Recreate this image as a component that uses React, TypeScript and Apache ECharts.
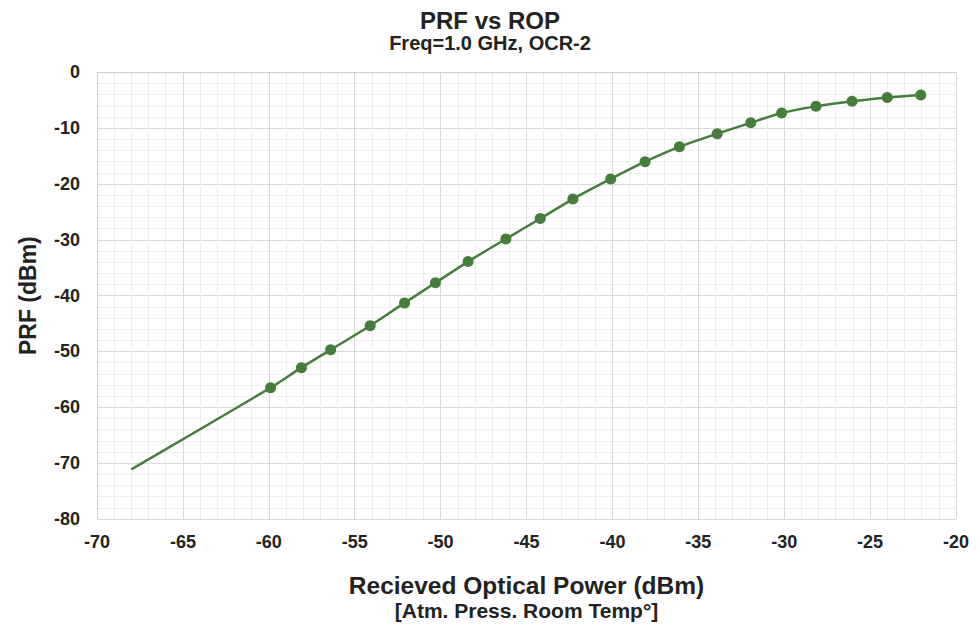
import React, { useEffect, useRef } from "react";
import * as echarts from "echarts";

const ropValues: number[] = [-68, -59.9, -58.1, -56.4, -54.1, -52.1, -50.3, -48.4, -46.2, -44.2, -42.3, -40.1, -38.1, -36.1, -33.9, -31.95, -30.15, -28.15, -26.05, -24.0, -22.05];
const prfValues: number[] = [-71.1, -56.5, -52.9, -49.7, -45.4, -41.3, -37.7, -33.9, -29.85, -26.2, -22.7, -19.1, -16.0, -13.35, -11.0, -9.05, -7.3, -6.1, -5.2, -4.5, -4.05];
const showMarker: boolean[] = [false, true, true, true, true, true, true, true, true, true, true, true, true, true, true, true, true, true, true, true, true];

const titleText = "PRF vs ROP";
const subtitleText = "Freq=1.0 GHz, OCR-2";
const xName = "Recieved Optical Power (dBm)";
const xName2 = "[Atm. Press. Room Temp°]";
const yName = "PRF (dBm)";

export default function App() {
  const ref = useRef<HTMLDivElement>(null);
  useEffect(() => {
    if (!ref.current) return;
    const chart = echarts.init(ref.current, undefined, { renderer: "svg" });
    const font = "'Liberation Sans', Arial, sans-serif";
    const data = ropValues.map((x, i) =>
      showMarker[i] ? [x, prfValues[i]] : { value: [x, prfValues[i]], symbol: "none" }
    );
    chart.setOption({
      animation: false,
      backgroundColor: "#ffffff",
      title: [
        {
          text: titleText,
          left: "center",
          top: 0,
          padding: 0,
          textStyle: { fontFamily: font, fontWeight: "bold", fontSize: 24, lineHeight: 24, color: "#222" },
        },
        {
          text: subtitleText,
          left: "center",
          top: 25,
          padding: 0,
          textStyle: { fontFamily: font, fontWeight: "bold", fontSize: 20, lineHeight: 20, color: "#222" },
        },
      ],
      grid: { left: 85.3, right: 8.7, top: 64.3, bottom: 100, containLabel: false },
      xAxis: {
        type: "value",
        min: -70,
        max: -20,
        interval: 5,
        name: `{a|${xName}}\n{b|${xName2}}`,
        nameLocation: "middle",
        nameGap: 52.5,
        nameTextStyle: {
          rich: {
            a: { fontFamily: font, fontWeight: "bold", fontSize: 24.5, color: "#222", lineHeight: 28 },
            b: { fontFamily: font, fontWeight: "bold", fontSize: 21, color: "#222", lineHeight: 22 },
          },
        },
        axisLine: { show: true, lineStyle: { color: "#cfcfcf", width: 1 } },
        axisTick: { show: false },
        axisLabel: { fontFamily: font, fontWeight: "bold", fontSize: 18, color: "#222", margin: 13.5 },
        splitLine: { show: true, lineStyle: { color: "#d9d9d9", width: 1 } },
        minorTick: { show: false, splitNumber: 5 },
        minorSplitLine: { show: true, lineStyle: { color: "#efefef", width: 1 } },
      },
      yAxis: {
        type: "value",
        min: -80,
        max: 0,
        interval: 10,
        name: yName,
        nameLocation: "middle",
        nameGap: 58,
        nameTextStyle: { fontFamily: font, fontWeight: "bold", fontSize: 23, color: "#222" },
        axisLine: { show: true, lineStyle: { color: "#cfcfcf", width: 1 } },
        axisTick: { show: false },
        axisLabel: { fontFamily: font, fontWeight: "bold", fontSize: 18, color: "#222", margin: 17 },
        splitLine: { show: true, lineStyle: { color: "#d9d9d9", width: 1 } },
        minorTick: { show: false, splitNumber: 5 },
        minorSplitLine: { show: true, lineStyle: { color: "#efefef", width: 1 } },
      },
      series: [
        {
          type: "line",
          data,
          smooth: 0.3,
          symbol: "circle",
          symbolSize: 11,
          lineStyle: { color: "#447E3A", width: 2.5 },
          itemStyle: { color: "#447E3A" },
        },
      ],
    });
    return () => chart.dispose();
  }, []);
  return <div ref={ref} style={{ width: 964, height: 618 }} />;
}
